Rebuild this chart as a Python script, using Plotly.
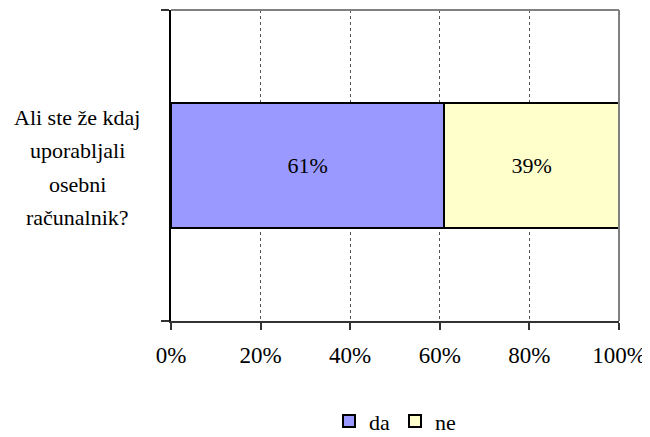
import plotly.graph_objects as go

categories = ["Ali ste že kdaj uporabljali osebni računalnik?"]
category_lines = ["Ali ste že kdaj", "uporabljali", "osebni", "računalnik?"]
series_names = ["da", "ne"]
da_values = [61]
ne_values = [39]
x_ticks = [0, 20, 40, 60, 80, 100]
x_tick_labels = ["0%", "20%", "40%", "60%", "80%", "100%"]

FONT = "Liberation Serif, Times New Roman, serif"

# the page body has an 8px margin, so the figure is offset by 8px
fig = go.Figure()
for name, vals, color in [(series_names[0], da_values, "#9999FF"), (series_names[1], ne_values, "#FFFFCC")]:
    fig.add_trace(go.Bar(
        y=[0], x=vals, orientation="h", name=name, width=1,
        marker=dict(color=color, line=dict(color="black", width=2)),
        text=[f"{v}%" for v in vals], textposition="inside", insidetextanchor="middle",
        textfont=dict(family=FONT, size=22, color="black"),
        hoverinfo="skip",
    ))

fig.update_layout(
    width=642, height=429,
    margin=dict(l=163, r=31, t=2, b=116, autoexpand=False),
    barmode="stack",
    plot_bgcolor="white", paper_bgcolor="white",
    font=dict(family=FONT, size=22, color="black"),
    showlegend=True,
    legend=dict(orientation="h", traceorder="normal", x=0.5, xanchor="center",
                y=-0.322, yanchor="middle", borderwidth=0,
                font=dict(family=FONT, size=22), itemwidth=30, tracegroupgap=0),
)

fig.update_xaxes(
    range=[0, 100], tickvals=x_ticks, ticktext=x_tick_labels,
    tickfont=dict(family=FONT, size=23),
    showgrid=True, gridcolor="#555555", griddash="dot", gridwidth=1,
    showline=True, linecolor="#333333", linewidth=2,
    ticks="outside", ticklen=7, tickwidth=1.5, tickcolor="#333333",
    ticklabelstandoff=5,
    zeroline=False, automargin=False,
)
fig.update_yaxes(
    range=[-1.25, 1.25], tickvals=[-1.25, 1.25], ticktext=["", ""],
    showgrid=False, zeroline=False,
    showline=True, linecolor="black", linewidth=2,
    ticks="outside", ticklen=8, tickwidth=1.5, tickcolor="#333333",
    automargin=False,
)

# top and right plot borders (grey)
fig.add_shape(type="line", xref="paper", yref="paper", x0=0, x1=1, y0=1, y1=1,
              line=dict(color="#808080", width=2), layer="above")
fig.add_shape(type="line", xref="paper", yref="paper", x0=1, x1=1, y0=0, y1=1,
              line=dict(color="#808080", width=2), layer="above")

# category label, one line per annotation
spacing = 33.5
n = len(category_lines)
for i, line in enumerate(category_lines):
    fig.add_annotation(
        x=(77 - 171) / 448, xref="paper", y=0, yref="y",
        yshift=-((i - (n - 1) / 2) * spacing) - 2,
        text=line, showarrow=False, xanchor="center", yanchor="middle",
        font=dict(family=FONT, size=22, color="black"),
    )

fig.write_html("out.html")
